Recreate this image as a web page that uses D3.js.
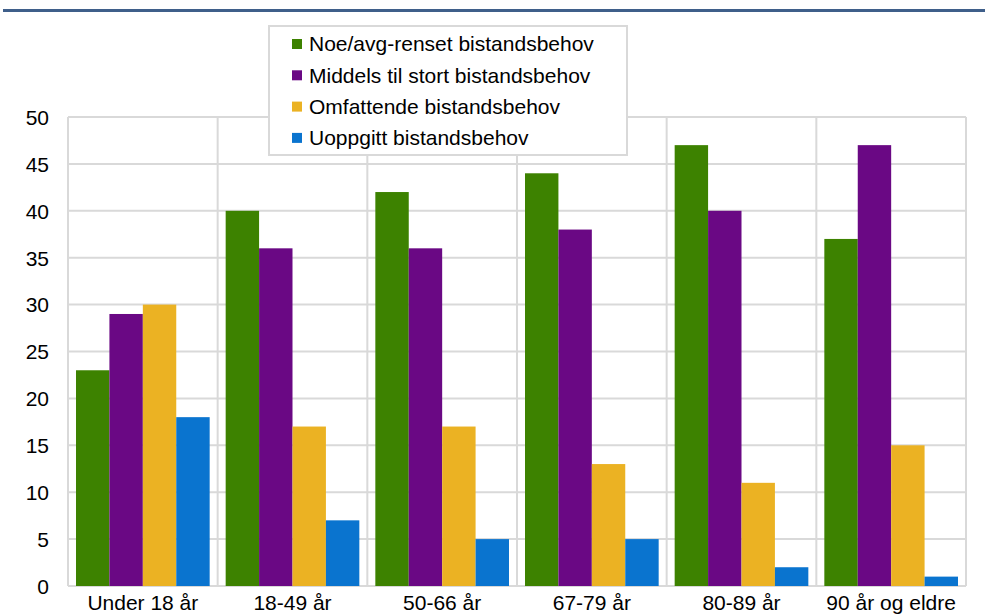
<!DOCTYPE html>
<html><head><meta charset="utf-8">
<script src="https://cdn.jsdelivr.net/npm/d3@7"></script>
<style>body{margin:0;background:#fff}svg{display:block;font-family:"Liberation Sans",Arial,sans-serif}</style>
</head><body><svg id="c" width="985" height="615"></svg>
<script>
const categories = ["Under 18 år","18-49 år","50-66 år","67-79 år","80-89 år","90 år og eldre"];
const seriesNames = ["Noe/avg-renset bistandsbehov","Middels til stort bistandsbehov","Omfattende bistandsbehov","Uoppgitt bistandsbehov"];
const noeAvgrenset = [23,40,42,44,47,37];
const middelsStort = [29,36,36,38,40,47];
const omfattende = [30,17,17,13,11,15];
const uoppgitt = [18,7,5,5,2,1];
const yTicks = [0,5,10,15,20,25,30,35,40,45,50];
const colors = ["#3d8200","#6a0884","#ebb223","#0a74cf"];
const series = [noeAvgrenset, middelsStort, omfattende, uoppgitt];

const svg = d3.select("#c");
const L=68,R=966,T=117,B=586;
const FS=21;
const x = d3.scaleBand().domain(categories).range([L,R]).paddingInner(0).paddingOuter(0);
const xs = d3.scaleBand().domain(d3.range(4)).range([8, x.bandwidth()-8]).padding(0);
const y = d3.scaleLinear().domain([0,50]).range([B,T]);

// top rule
svg.append("rect").attr("x",3).attr("y",9).attr("width",982).attr("height",3).attr("fill","#3f5f8a");

const grid="#d9d9d9";
svg.append("g").selectAll("line").data(yTicks).join("line")
 .attr("x1",L).attr("x2",R).attr("y1",d=>y(d)).attr("y2",d=>y(d))
 .attr("stroke",grid).attr("stroke-width",2);
svg.append("g").selectAll("line").data(categories.concat(["end"])).join("line")
 .attr("x1",(d,i)=>i<categories.length?x(d):R).attr("x2",(d,i)=>i<categories.length?x(d):R)
 .attr("y1",T).attr("y2",B).attr("stroke",grid).attr("stroke-width",2);

categories.forEach((c,ci)=>{
  series.forEach((s,si)=>{
    svg.append("rect").attr("x",x(c)+xs(si)).attr("width",xs.bandwidth())
      .attr("y",y(s[ci])).attr("height",B-y(s[ci])).attr("fill",colors[si]);
  });
});

const yAxis = d3.axisLeft(y).tickValues(yTicks).tickSize(0).tickPadding(0);
const ga = svg.append("g").attr("transform",`translate(49,0)`).call(yAxis);
ga.select(".domain").remove();
ga.selectAll("text").attr("font-size",FS).attr("fill","#000").attr("font-family","Liberation Sans, Arial, sans-serif").attr("dy","0.35em");

const xAxis = d3.axisBottom(x).tickSize(0).tickPadding(0);
const gx = svg.append("g").attr("transform",`translate(0,${B})`).call(xAxis);
gx.select(".domain").remove();
gx.selectAll("text").attr("font-size",FS).attr("fill","#000").attr("font-family","Liberation Sans, Arial, sans-serif").attr("y",24).attr("dy","0");

const lg = svg.append("g");
lg.append("rect").attr("x",269).attr("y",26).attr("width",358).attr("height",129)
  .attr("fill","#fff").attr("stroke",grid).attr("stroke-width",2);
seriesNames.forEach((n,i)=>{
  const cy = 44 + i*31.3;
  lg.append("rect").attr("x",292).attr("y",cy-5).attr("width",10).attr("height",10).attr("fill",colors[i]);
  lg.append("text").attr("x",309).attr("y",cy).attr("dy","0.35em").attr("font-size",FS).attr("fill","#000").text(n);
});
</script></body></html>
